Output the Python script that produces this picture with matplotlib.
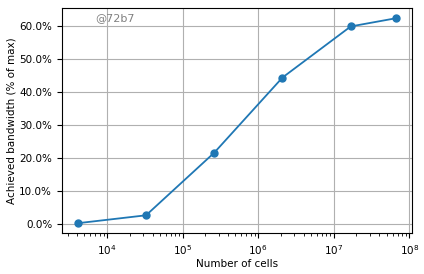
import matplotlib
matplotlib.use("Agg")
import matplotlib.pyplot as plt
from matplotlib.ticker import PercentFormatter

# number of cells (powers of two) and achieved bandwidth in % of max
cells = [2**12, 2**15, 2**18, 2**21, 2**24, 2**26]
bandwidth = [0.1, 2.5, 21.5, 44.3, 59.8, 62.3]

plt.rcParams['font.size'] = 7.5

fig = plt.figure(figsize=(4.24, 2.74), dpi=100)
ax = fig.add_axes([0.146, 0.148, 0.826, 0.823])

ax.plot(cells, bandwidth, marker='o', color='#1f77b4', markersize=5, linewidth=1.3)
ax.set_xscale('log')
ax.yaxis.set_major_formatter(PercentFormatter(100, decimals=1))
ax.grid(True, color='#b0b0b0', linewidth=0.8)

ax.set_xlabel('Number of cells', labelpad=1.5)
ax.set_ylabel('Achieved bandwidth (% of max)', labelpad=2)

ax.text(0.095, 0.975, '@72b7', transform=ax.transAxes, color='gray',
        fontsize=8, va='top', ha='left')

fig.savefig('out.png', dpi=100)
